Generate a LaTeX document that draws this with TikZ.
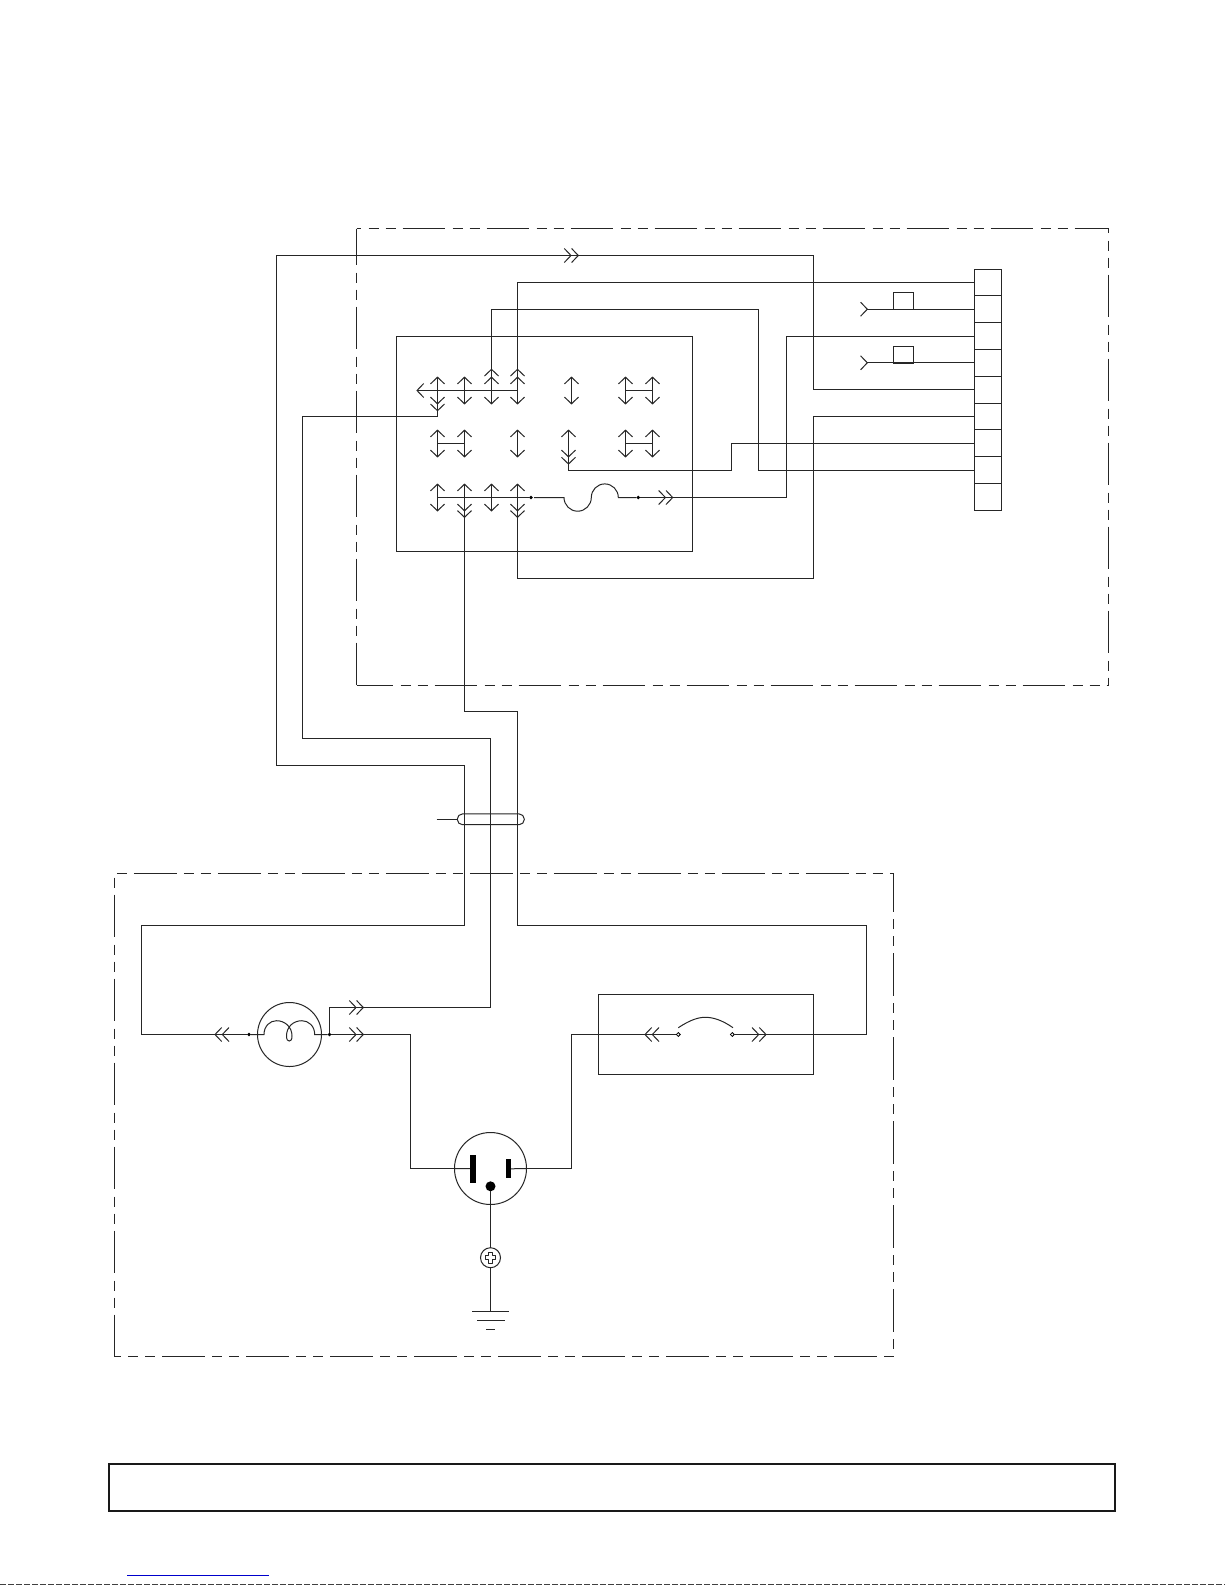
\documentclass[tikz,border=0pt]{standalone}
\tikzset{
  ln/.style={line width=0.5pt,draw=black!85,line cap=butt,line join=miter},
  chevd/.pic={\draw[ln] (-7,-6.7)--(0,0)--(7,-6.7);},
  chevu/.pic={\draw[ln] (-7,6.7)--(0,0)--(7,6.7);},
  chevl/.pic={\draw[ln] (6.7,-7)--(0,0)--(6.7,7);},
  chevr/.pic={\draw[ln] (-6.7,-7)--(0,0)--(-6.7,7);},
  dchevl/.pic={\draw[ln] (6.7,-7)--(0,0)--(6.7,7) (14,-7)--(7.3,0)--(14,7);},
  dchevr/.pic={\draw[ln] (-6.7,-7)--(0,0)--(-6.7,7) (-14,-7)--(-7.3,0)--(-14,7);},
  pinpair/.pic={\draw[ln] (0,-13.3)--(0,13.3);
    \pic at (0,-13.3) {chevu}; \pic at (0,13.3) {chevd};},
  boxn/.style={ln,draw,rectangle,inner sep=0pt,outer sep=0pt,fill=none},
  cell/.style={boxn,minimum width=13.5pt,minimum height=13.4pt},
  round1/.style={ln,draw,circle,inner sep=0pt,outer sep=0pt},
  dot/.style={circle,fill=black,inner sep=0pt,outer sep=0pt,minimum size=1.9pt},
  odot/.style={circle,draw=black,fill=white,line width=0.4pt,inner sep=0pt,outer sep=0pt,minimum size=1.9pt},
  dashb/.style={ln,dash pattern=on 21.35pt off 3.65pt on 5pt off 3.5pt on 5pt off 3.5pt,dash phase=#1pt},
}
\begin{document}
\begin{tikzpicture}[x=0.5pt,y=-0.5pt]
\useasboundingbox (0,0) rectangle (1225,1585);
\fill[white] (0,0) rectangle (1225,1585);

% dashed enclosures
\coordinate (A1) at (356.5,228.5); \coordinate (A2) at (1108.5,228.5);
\coordinate (A3) at (1108.5,685.5); \coordinate (A4) at (356.5,685.5);
\draw[dashb=19] (A1)--(A2);
\draw[dashb=3] (A1)--(A4);
\draw[dashb=3] (A4)--(A3);
\draw[dashb=19] (A2)--(A3);
\coordinate (B1) at (114.5,873.5); \coordinate (B2) at (893.5,873.5);
\coordinate (B3) at (893.5,1356.5); \coordinate (B4) at (114.5,1356.5);
\draw[dashb=32.3] (B1)--(B2);
\draw[dashb=31.5] (B1)--(B4);
\draw[dashb=33.5] (B3)--(B4);
\draw[dashb=29.5] (B3)--(B2);

% module box
\node[boxn,minimum width=148pt,minimum height=107.5pt] (mod) at (544.5,443.5) {};

% terminal strip
\foreach \i in {1,...,9}{
  \node[cell] (c\i) at (987.5,{269+26.8*(\i-.5)}) {};
}

% pin pairs
\foreach \nm/\xx/\yy in {a1/437.5/390.5,a2/464.5/390.5,a3/491.5/390.5,a4/517.5/390.5,a5/571.5/390.5,a6/625.5/390.5,a7/652.5/390.5,
  b1/437.5/443.5,b2/464.5/443.5,b4/517.5/443.5,b5/568.5/443.5,b6/625.5/443.5,b7/652.5/443.5,
  d1/437.5/497.5,d2/464.5/497.5,d3/491.5/497.5,d4/517.5/497.5}{
  \coordinate (\nm) at (\xx,\yy);
  \pic at (\nm) {pinpair};
}
% links
\draw[ln] (a6)--(a7);
\draw[ln] (b1)--(b2);
\draw[ln] (b6)--(b7);
\coordinate (bus) at (417,390.5);
\draw[ln] (bus)--(a4);
\pic at (bus) {chevl};

% extra chevrons / wire ends
\coordinate (e3) at (491.5,369.3);  \pic at (e3) {chevu};
\coordinate (e4) at (517.5,369.3);\pic at (e4) {chevu};
\coordinate (e1) at (437.5,410.7);  \pic at (e1) {chevd};
\coordinate (e5) at (568.5,464);    \pic at (e5) {chevd};
\coordinate (f2) at (464.5,517.3);  \pic at (f2) {chevd};
\coordinate (f4) at (517.5,517.3);\pic at (f4) {chevd};
\draw[ln] (e3)--(a3) (e4)--(a4) (e1)--(a1) (e5)--(b5) (f2)--(d2) (f4)--(d4);

% fuse line
\node[dot] (fd1) at (531,497.5) {};
\node[dot] (fd2) at (638.3,497.5) {};
\coordinate (fs) at (564,497.5); \coordinate (fm) at (591.3,497.5); \coordinate (fe) at (618.3,497.5);
\draw[ln] (d1)--(fd1);
\draw[ln] (534,497.5)--(fs)
  .. controls (564,505) and (570,511.2) .. (577.7,511.2)
  .. controls (585.2,511.2) and (591.3,505) .. (fm)
  .. controls (591.3,490) and (597.3,483.9) .. (604.8,483.9)
  .. controls (612.3,483.9) and (618.3,490) .. (fe)
  -- (fd2);
\coordinate (fa) at (672.7,497.5);
\pic at (fa) {dchevr};
\draw[ln] (fd2)--(fa);

% wires module to strip
\coordinate (v7) at (786.5,336);
\draw[ln] (fa) -| (v7) -- (c3.west);
\draw[ln] (e4) |- (c1.west);
\coordinate (v8) at (758.5,309.2);
\draw[ln] (e3) |- (v8) |- (c8.west);
\coordinate (v9) at (731.5,470.5);
\draw[ln] (e5) |- (v9) |- (c7.west);
\coordinate (v10) at (813.5,578.5);
\draw[ln] (f4) |- (v10) |- (c6.west);

% tabs
\coordinate (t1) at (867.3,309.2); \coordinate (t2) at (867.3,362.8);
\pic at (t1) {chevr}; \pic at (t2) {chevr};
\draw[ln] (t1)--(c2.west);
\draw[ln] (t2)--(c4.west);
\node[ln,draw,rectangle,inner sep=0pt,outer sep=0pt,minimum width=10.2pt,minimum height=8.5pt] (tb1) at (903.5,300.9) {};
\node[ln,draw,rectangle,inner sep=0pt,outer sep=0pt,minimum width=10.2pt,minimum height=8.5pt] (tb2) at (903.5,354.6) {};

% lamp
\node[round1,minimum size=32pt] (lamp) at (289.5,1034.5) {};
\node[dot] (ld) at (249,1034.5) {};
\node[dot] (rd) at (329.5,1034.5) {};
\coordinate (cl) at (264,1034.5); \coordinate (cr) at (314.7,1034.5);
\draw[ln] (ld)--(cl)
  .. controls (264,1026) and (270,1020.7) .. (276.5,1020.7)
  .. controls (285,1020.7) and (292,1027) .. (292,1036)
  .. controls (292,1040) and (290.5,1041) .. (289.3,1041)
  .. controls (288,1041) and (286.5,1040) .. (286.5,1036)
  .. controls (286.5,1027) and (293,1020.7) .. (302,1020.7)
  .. controls (308.5,1020.7) and (314.7,1026) .. (cr)
  -- (rd);
\coordinate (la) at (215,1034.5); \pic at (la) {dchevl};
\draw[ln] (la)--(ld);
\coordinate (ra) at (363.3,1034.5); \pic at (ra) {dchevr};
\coordinate (ra2) at (363.3,1007.5); \pic at (ra2) {dchevr};
\draw[ln] (rd)--(ra);
\draw[ln] (rd)|-(ra2);

% outlet
\node[round1,minimum size=36pt] (out) at (490.5,1168.5) {};
\node[fill=black,inner sep=0pt,outer sep=0pt,minimum width=2.9pt,minimum height=14pt] (bl) at (472.8,1168.7) {};
\node[fill=black,inner sep=0pt,outer sep=0pt,minimum width=2.6pt,minimum height=9.5pt] (br) at (508.5,1168.8) {};
\node[circle,fill=black,inner sep=0pt,outer sep=0pt,minimum size=5pt] (gd) at (490.5,1186.3) {};
\draw[ln] (out.west)--(bl.west);
\draw[ln] (br.east)--(out.east);

% screw and ground
\node[round1,minimum size=10pt] (scr) at (490.5,1257.7) {};
\draw[line width=0.4pt,draw=black!85,line join=round] (488.3,1252.6)--(492.7,1252.6)--(492.7,1255.6)--(495.8,1255.6)--(495.8,1259.8)--(492.7,1259.8)--(492.7,1263)--(488.3,1263)--(488.3,1259.8)--(485.2,1259.8)--(485.2,1255.6)--(488.3,1255.6)--cycle;
\coordinate (g1) at (490.5,1311.7);
\draw[ln] (gd)--(scr.north);
\draw[ln] (scr.south)--(g1);
\draw[ln,line width=0.65pt] (472.3,1311.7)--(509,1311.7);
\draw[ln,line width=0.65pt] (477,1320.7)--(504.7,1320.7);
\draw[ln,line width=0.65pt] (486,1329.7)--(495.3,1329.7);

% switch box
\node[boxn,minimum width=107.5pt,minimum height=40.2pt] (sw) at (705.5,1034.5) {};
\node[odot] (s1) at (678.3,1034.5) {};
\node[odot] (s2) at (732.3,1034.5) {};
\draw[ln] (678.3,1027.7) .. controls (690,1020) and (698,1017.3) .. (705.3,1017.3)
  .. controls (713,1017.3) and (722,1020) .. (733,1027.7);
\coordinate (sa) at (645,1034.5); \pic at (sa) {dchevl};
\coordinate (sb) at (766,1034.5); \pic at (sb) {dchevr};
\draw[ln] (sa)--(s1);
\draw[ln] (s2)--(sb);

% long wires
\coordinate (tw) at (578.3,255.5); \pic at (tw) {dchevr};
\coordinate (w1) at (276.5,255.5); \coordinate (w2) at (276.5,765.5);
\coordinate (w3) at (464.5,765.5); \coordinate (w4) at (464.5,925.5);
\coordinate (w5) at (141.5,925.5); \coordinate (w6) at (141.5,1034.5);
\coordinate (w7) at (813.5,255.5);
\draw[ln] (c5.west) -| (w7) -- (w1) -- (w2) -- (w3) -- (w4) -- (w5) -- (w6) -- (la);
\coordinate (x1) at (302.5,416.5); \coordinate (x2) at (302.5,738.5);
\coordinate (x3) at (490.5,738.5); \coordinate (x4) at (490.5,1007.5);
\draw[ln] (e1) |- (x1) -- (x2) -- (x3) -- (x4) -- (ra2);
\coordinate (y1) at (464.5,711.5); \coordinate (y2) at (517.5,711.5);
\coordinate (y3) at (517.5,925.5); \coordinate (y4) at (866.5,925.5);
\draw[ln] (f2) -- (y1) -- (y2) -- (y3) -- (y4) |- (sb);
\coordinate (z1) at (410.5,1034.5); \coordinate (z2) at (571.5,1168.5); 
\draw[ln] (ra) -- (z1) |- (out.west);
\draw[ln] (out.east) -- (z2) |- (sa);

% cable clamp
\node[ln,draw,rectangle,rounded corners=2.6pt,inner sep=0pt,outer sep=0pt,minimum width=33.5pt,minimum height=5.4pt] (clamp) at (490.8,819.3) {};
\coordinate (cs) at (436.7,819.3);
\draw[ln] (cs)--(clamp.west);

% bottom frame
\node[draw=black!90,line width=1.1pt,rectangle,inner sep=0pt,outer sep=0pt,minimum width=503pt,minimum height=23.4pt] (frame) at (611.7,1487.7) {};
\coordinate (bu1) at (127.3,1575.3); \coordinate (bu2) at (268.7,1575.3);
\draw[line width=0.8pt,draw=blue!80!black] (bu1)--(bu2);
\coordinate (ed1) at (0,1584.4); \coordinate (ed2) at (1225,1584.4);
\draw[line width=0.6pt,draw=black!75,dash pattern=on 3pt off 1pt] (ed1)--(ed2);
\end{tikzpicture}
\end{document}
